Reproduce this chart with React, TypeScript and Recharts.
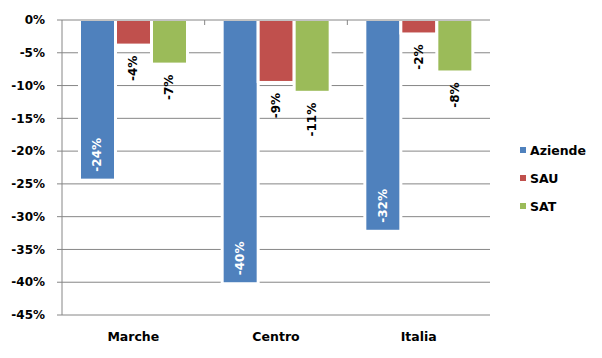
import React from "react";
import {
  BarChart,
  Bar,
  XAxis,
  YAxis,
  CartesianGrid,
  LabelList,
} from "recharts";

const categories = ["Marche", "Centro", "Italia"];
const aziende = [-24.2, -40.0, -32.0];
const sau = [-3.6, -9.3, -1.9];
const sat = [-6.5, -10.8, -7.7];
const yTicks = [0, -5, -10, -15, -20, -25, -30, -35, -40, -45];
const boundaryTicks = [1, 2];

const series = [
  { key: "Aziende", color: "#4F81BD", labelColor: "#FFFFFF", inside: true },
  { key: "SAU", color: "#C0504D", labelColor: "#000000", inside: false },
  { key: "SAT", color: "#9BBB59", labelColor: "#000000", inside: false },
];

const data = categories.map((name, i) => ({
  name,
  pos: i + 0.5,
  Aziende: aziende[i],
  SAU: sau[i],
  SAT: sat[i],
}));

const FONT = "'DejaVu Sans', Verdana, sans-serif";
const GRAY = "#868686";

const fmt = (v: number) => `${Number(v).toFixed(0)}%`;

// bar with a white halo so gridlines stop short of it
const HaloBar = (props: any) => {
  const { x, y, width, height, fill } = props;
  const top = Math.min(y, y + height) + 1;
  const bottom = Math.max(y, y + height);
  const h = Math.max(0, bottom - top);
  return (
    <g>
      <rect x={x - 3} y={top} width={width + 6} height={h + 2} fill="#fff" />
      <rect x={x} y={top} width={width} height={h} fill={fill} />
    </g>
  );
};

const makeLabel = (inside: boolean, color: string) => (props: any) => {
  const { x, y, width, height, value } = props;
  const bottom = Math.max(y, y + height);
  const cx = x + width / 2;
  const ay = inside ? bottom - 7 : bottom + 12;
  return (
    <text
      x={cx}
      y={ay}
      transform={`rotate(-90 ${cx} ${ay})`}
      textAnchor={inside ? "start" : "end"}
      dominantBaseline="central"
      fill={color}
      fontFamily={FONT}
      fontWeight="bold"
      fontSize={12}
    >
      {fmt(value)}
    </text>
  );
};

export default function App() {
  return (
    <div
      style={{
        position: "absolute",
        left: 0,
        top: 0,
        width: 602,
        height: 358,
        background: "#fff",
        fontFamily: FONT,
      }}
    >
      <BarChart
        width={602}
        height={358}
        data={data}
        margin={{ top: 0, right: 112, bottom: 0, left: 0 }}
        barSize={33}
        barGap={3}
      >
        <CartesianGrid vertical={false} stroke={GRAY} />
        <XAxis
          dataKey="name"
          height={43}
          axisLine={false}
          tickLine={false}
          tickSize={0}
          tickMargin={17}
          tick={{ fill: "#000", fontSize: 12.5, fontWeight: "bold", fontFamily: FONT }}
        />
        {/* small inward ticks on the zero line between categories */}
        <XAxis
          xAxisId="top"
          dataKey="pos"
          orientation="top"
          type="number"
          domain={[0, 3]}
          allowDataOverflow
          ticks={boundaryTicks}
          interval={0}
          height={20}
          axisLine={false}
          tickSize={-5}
          tickLine={{ stroke: GRAY }}
          tickFormatter={() => ""}
        />
        <YAxis
          type="number"
          domain={[-45, 0]}
          ticks={yTicks}
          interval={0}
          width={62}
          stroke={GRAY}
          tickSize={5}
          tickMargin={12}
          tickFormatter={fmt}
          tick={{ fill: "#000", fontSize: 12, fontWeight: "bold", fontFamily: FONT }}
        />
        <YAxis
          yAxisId="right"
          orientation="right"
          type="number"
          domain={[-45, 0]}
          width={0}
          stroke={GRAY}
          tick={false}
          tickLine={false}
        />
        {series.map((s) => (
          <Bar
            key={s.key}
            dataKey={s.key}
            fill={s.color}
            shape={HaloBar}
            isAnimationActive={false}
          >
            <LabelList dataKey={s.key} content={makeLabel(s.inside, s.labelColor)} />
          </Bar>
        ))}
      </BarChart>
      <div style={{ position: "absolute", left: 520, top: 136 }}>
        {series.map((s) => (
          <div
            key={s.key}
            style={{
              display: "flex",
              alignItems: "center",
              height: 28,
              fontSize: 12.5,
              fontWeight: "bold",
              color: "#000",
            }}
          >
            <span
              style={{
                width: 6,
                height: 6,
                background: s.color,
                marginRight: 4,
                display: "inline-block",
              }}
            />
            {s.key}
          </div>
        ))}
      </div>
    </div>
  );
}
